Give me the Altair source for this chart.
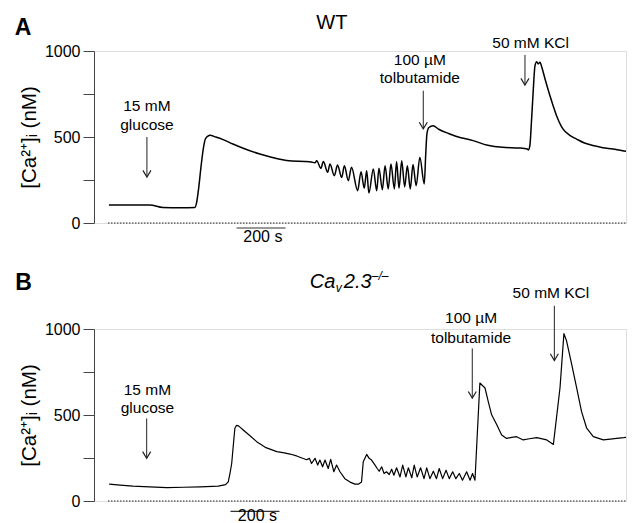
import altair as alt
import pandas as pd

# ---------------- data (time in s, [Ca2+]i in nM) ----------------
a_t = [4, 100, 171, 224, 300, 355, 362, 370, 380, 390, 398, 408, 416, 440, 470, 510, 560, 620, 660, 702, 750, 804, 830, 845,
       852, 869, 879, 897, 906, 924, 937, 954, 965, 981, 994, 1019, 1033, 1046, 1056, 1065, 1083, 1097, 1106, 1120, 1131, 1144,
       1155, 1169, 1178, 1188, 1199, 1211, 1222, 1234, 1245, 1258, 1273, 1291,
       1297, 1302, 1310, 1327, 1350, 1390, 1420, 1490, 1550, 1610, 1680, 1712, 1716, 1722, 1729, 1735, 1743, 1750, 1756, 1763,
       1772, 1784, 1804, 1831, 1857, 1885, 1913, 1945, 1980, 2020, 2061, 2100, 2131]
a_v = [105, 104, 104, 90, 88, 90, 120, 200, 330, 440, 490, 505, 510, 500, 485, 459, 430, 401, 385, 370, 360, 358, 355, 350,
       362, 318, 357, 295, 343, 275, 337, 265, 333, 246, 324, 188, 298, 202, 304, 174, 314, 188, 318, 194, 333, 198,
       343, 198, 357, 202, 362, 210, 333, 198, 340, 217, 382, 227,
       400, 520, 555, 565, 545, 520, 504, 479, 452, 440, 436, 430, 425, 450, 600, 750, 915, 938, 925, 934,
       900, 837, 740, 624, 547, 510, 488, 465, 450, 438, 430, 420, 415]

b_t = [5, 50, 102, 170, 240, 310, 376, 450, 480, 491, 498, 505, 512, 518, 525, 532, 540, 552, 575, 607, 645, 689, 720, 743,
       770, 797, 811, 822, 831, 845, 856, 865, 876, 886, 899, 909, 922, 933, 947, 967, 988, 1008, 1022, 1035, 1042, 1056,
       1066, 1076, 1090, 1099, 1107, 1117, 1127, 1137, 1148, 1158, 1167, 1178, 1192, 1203, 1216, 1226, 1240, 1250, 1262,
       1276, 1290, 1301, 1314, 1328, 1341, 1352, 1366, 1380, 1393, 1407, 1420, 1434, 1447, 1464, 1478, 1488, 1498,
       1518, 1539, 1552, 1566, 1587, 1607, 1627, 1648, 1668, 1695, 1720, 1750, 1791, 1818, 1845, 1861, 1872, 1893, 1913,
       1933, 1954, 1981, 2022, 2050, 2076, 2105, 2131]
b_v = [98, 92, 86, 82, 78, 80, 82, 86, 95, 111, 160, 218, 330, 423, 440, 437, 428, 413, 385, 345, 310, 287, 280, 273,
       262, 247, 240, 248, 218, 248, 209, 238, 199, 238, 189, 242, 170, 209, 170, 130, 110, 98, 98, 111, 228, 271,
       248, 238, 209, 189, 173, 199, 160, 170, 154, 185, 150, 193, 140, 209, 140, 193, 135, 209, 140,
       193, 130, 193, 130, 173, 130, 189, 130, 179, 130, 170, 130, 160, 121, 170, 121, 160, 121,
       686, 657, 579, 501, 443, 384, 364, 370, 374, 355, 362, 368, 355, 329, 657, 973, 930, 793, 657,
       520, 423, 374, 355, 360, 364, 368, 374]

lbl_text = ["15 mM", "glucose", "100 µM", "tolbutamide", "50 mM KCl"]
a_lbl_t = [159, 159, 1273, 1273, 1725]
a_lbl_v = [680, 570, 948, 843, 1047]
b_lbl_t = [161, 161, 1482, 1482, 1808]
b_lbl_v = [643, 538, 1064, 945, 1209]

a_arr_t = [159, 1287, 1702]
a_arr_top = [500, 769, 977]
a_arr_tip = [267, 547, 802]
b_arr_t = [158, 1487, 1822]
b_arr_top = [480, 887, 1135]
b_arr_tip = [248, 598, 817]

a_bar = dict(t=525, t2=725, v=-29, lt=632, lv=-84)
b_bar = dict(t=500, t2=700, v=-60, lt=610, lv=-90)

PLOT_W = 532
X_DOMAIN = [-57, -57 + PLOT_W / 0.245]
Y_TICKS = [0, 250, 500, 750, 1000]
FONT = "Liberation Sans"

xs = alt.Scale(domain=X_DOMAIN, nice=False, zero=False)
ys = alt.Scale(domain=[0, 1000], nice=False, zero=False)
yaxis = alt.Axis(
    title="[Ca²⁺]ᵢ (nM)", values=Y_TICKS, format="d",
    labelExpr="datum.value % 500 == 0 ? datum.label : ''",
    grid=False, tickSize=11, labelPadding=3, titlePadding=5,
    labelFont=FONT, labelFontSize=16, labelColor="black",
    titleFont=FONT, titleFontSize=20.5, titleFontWeight="normal", titleColor="black",
    domainColor="#444", tickColor="#444", domainWidth=1, tickWidth=1,
)


def X(f="t"):
    return alt.X(f"{f}:Q", scale=xs, axis=None)


def Y(f="v"):
    return alt.Y(f"{f}:Q", scale=ys, axis=yaxis)


def panel(t, v, lt, lv, at, atop, atip, bar, letter, lw, interp):
    trace = pd.DataFrame({"t": t, "v": v})
    zero = pd.DataFrame({"t": [0], "t2": [X_DOMAIN[1]], "v": [0]})
    labels = pd.DataFrame({"t": lt, "v": lv, "txt": lbl_text})
    arrows = pd.DataFrame({"t": at, "v": atop, "v2": atip})
    sbar = pd.DataFrame({"t": [bar["t"]], "t2": [bar["t2"]], "v": [bar["v"]]})
    stext = pd.DataFrame({"t": [bar["lt"]], "v": [bar["lv"]], "txt": ["200 s"]})
    let = pd.DataFrame({"t": [letter[0]], "v": [letter[1]], "txt": [letter[2]]})

    layers = [
        alt.Chart(zero).mark_rule(strokeDash=[1.5, 1.5], strokeWidth=1.2, color="#222")
        .encode(x=X(), x2="t2:Q", y=Y()),
        alt.Chart(trace).mark_line(color="black", strokeWidth=lw, strokeJoin="round",
                                   interpolate=interp, clip=True)
        .encode(x=X(), y=Y()),
        alt.Chart(arrows).mark_rule(color="#222", strokeWidth=1)
        .encode(x=X(), y=Y(), y2="v2:Q"),
        alt.Chart(arrows).mark_point(shape="M-0.6,-1L0,0L0.6,-1", size=180, filled=False,
                                     stroke="#222", strokeWidth=1.2, opacity=1)
        .encode(x=X(), y=Y("v2")),
        alt.Chart(labels).mark_text(font=FONT, fontSize=15.5, color="black", align="center", baseline="middle")
        .encode(x=X(), y=Y(), text="txt:N"),
        alt.Chart(sbar).mark_rule(color="#333", strokeWidth=1.2)
        .encode(x=X(), x2="t2:Q", y=Y()),
        alt.Chart(stext).mark_text(font=FONT, fontSize=16, color="black", align="center", baseline="middle")
        .encode(x=X(), y=Y(), text="txt:N"),
        alt.Chart(let).mark_text(font=FONT, fontSize=23, fontWeight="bold", color="black",
                                 align="center", baseline="middle")
        .encode(x=X(), y=Y(), text="txt:N"),
    ]
    return layers


# Panel A
la = panel(a_t, a_v, a_lbl_t, a_lbl_v, a_arr_t, a_arr_top, a_arr_tip, a_bar, (-347, 1134, "A"), 1.5, "monotone")
wt = pd.DataFrame({"t": [914], "v": [1163], "txt": ["WT"]})
la.append(alt.Chart(wt).mark_text(font=FONT, fontSize=20, color="black", align="center", baseline="middle")
          .encode(x=X(), y=Y(), text="txt:N"))
chartA = alt.layer(*la).properties(width=PLOT_W, height=172)

# Panel B
lb = panel(b_t, b_v, b_lbl_t, b_lbl_v, b_arr_t, b_arr_top, b_arr_tip, b_bar, (-345, 1266, "B"), 1.2, "linear")
ko_parts = pd.DataFrame({
    "t": [824, 824, 824, 824],
    "v": [1276, 1276, 1276, 1276],
    "txt": ["Ca", "v", "2.3", "–/–"],
    "dx": [0, 26, 34, 62],
    "dy": [0, 6, 0, -6],
    "fs": [20, 12, 20, 12],
})
for i in range(len(ko_parts)):
    row = ko_parts.iloc[[i]]
    lb.append(alt.Chart(row).mark_text(font=FONT, fontSize=float(row["fs"].iloc[0]), fontStyle="italic",
                                       color="black", align="left", baseline="middle",
                                       dx=float(row["dx"].iloc[0]), dy=float(row["dy"].iloc[0]))
              .encode(x=X(), y=Y(), text="txt:N"))
chartB = alt.layer(*lb).properties(width=PLOT_W, height=172)

chart = alt.vconcat(chartA, chartB, spacing=106, bounds="flush").properties(
    padding={"left": 6, "top": 4, "right": 0, "bottom": 0}
).configure_view(stroke=None).configure(background="white")

chart.save("out.html", embed_options={"renderer": "svg", "actions": False})
